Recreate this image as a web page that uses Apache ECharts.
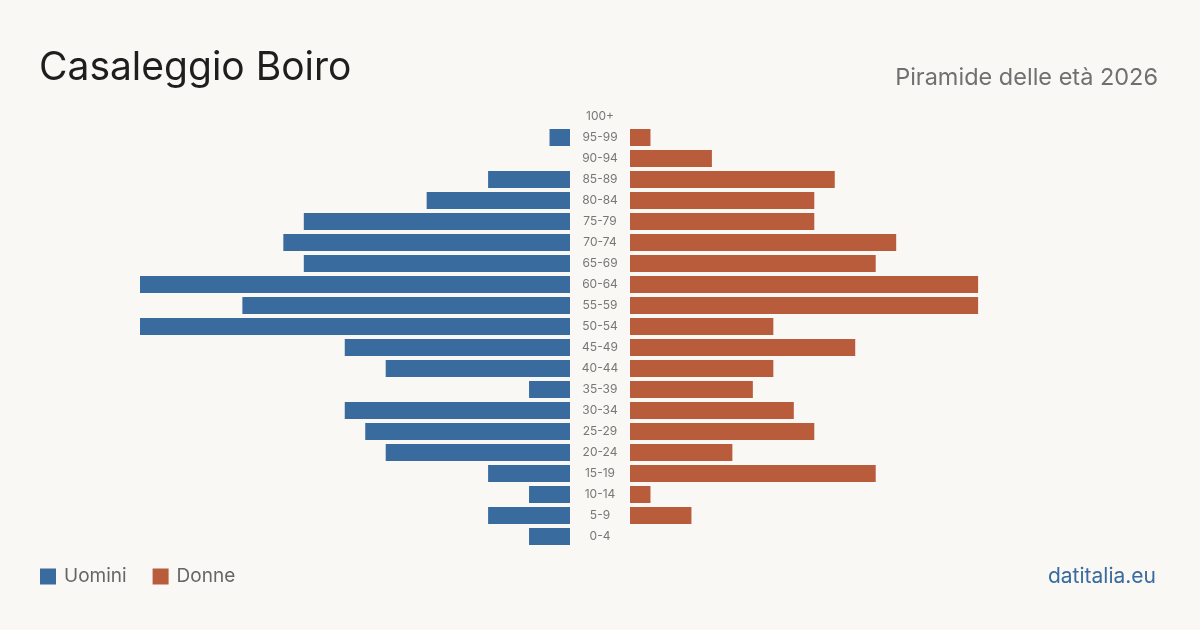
<!DOCTYPE html>
<html>
<head>
<meta charset="utf-8">
<script src="https://cdn.jsdelivr.net/npm/echarts@6/dist/echarts.min.js"></script>
<style>
html,body{margin:0;padding:0;background:#f9f8f4;}
#c{width:1200px;height:630px;}
</style>
</head>
<body>
<div id="c"></div>
<script>
const categories = ['0-4','5-9','10-14','15-19','20-24','25-29','30-34','35-39','40-44','45-49','50-54','55-59','60-64','65-69','70-74','75-79','80-84','85-89','90-94','95-99','100+'];
const uomini = [2,4,2,4,9,10,11,2,9,11,21,16,21,13,14,13,7,4,0,1,0];
const donne  = [0,3,1,12,5,9,8,6,7,11,7,17,17,12,13,9,9,10,4,1,0];
const axisMax = 21;

const FONT = 'Inter, "Noto Sans", sans-serif';
const chart = echarts.init(document.getElementById('c'), null, {renderer:'canvas'});
chart.setOption({
  backgroundColor: '#f9f8f4',
  animation: false,
  textStyle: {fontFamily: FONT},
  title: [
    {text: 'Casaleggio Boiro', left: 34, top: 44, textStyle: {fontFamily: FONT, fontSize: 39, fontWeight: 'normal', color: '#1e1e1e'}},
    {text: 'Piramide delle età 2026', right: 37, top: 61, textStyle: {fontFamily: FONT, fontSize: 23.5, fontWeight: 'normal', color: '#707070'}},
    {text: 'datitalia.eu', right: 39, top: 561, textStyle: {fontFamily: FONT, fontSize: 21, fontWeight: 'normal', color: '#3a6b9e'}}
  ],
  legend: {
    data: ['Uomini','Donne'], left: 35, top: 562, icon: 'rect', itemWidth: 16, itemHeight: 16, itemGap: 26,
    textStyle: {fontFamily: FONT, fontSize: 19, color: '#666', padding: [0,0,0,3]}
  },
  grid: [
    {left: 140, width: 430, top: 106, height: 441},
    {left: 630, width: 430, top: 106, height: 441}
  ],
  xAxis: [
    {gridIndex: 0, type: 'value', min: 0, max: axisMax, inverse: true, show: false},
    {gridIndex: 1, type: 'value', min: 0, max: axisMax, show: false}
  ],
  yAxis: [
    {gridIndex: 0, type: 'category', data: categories, show: false},
    {gridIndex: 1, type: 'category', data: categories, axisLine: {show: false}, axisTick: {show: false},
     axisLabel: {align: 'center', margin: 30, fontSize: 12, color: '#777', fontFamily: FONT, padding: [2,0,0,0]}}
  ],
  series: [
    {name: 'Uomini', type: 'bar', xAxisIndex: 0, yAxisIndex: 0, data: uomini, barCategoryGap: '19%', itemStyle: {color: '#3a6b9e'}},
    {name: 'Donne', type: 'bar', xAxisIndex: 1, yAxisIndex: 1, data: donne, barCategoryGap: '19%', itemStyle: {color: '#b85c3c'}}
  ]
});
</script>
</body>
</html>
